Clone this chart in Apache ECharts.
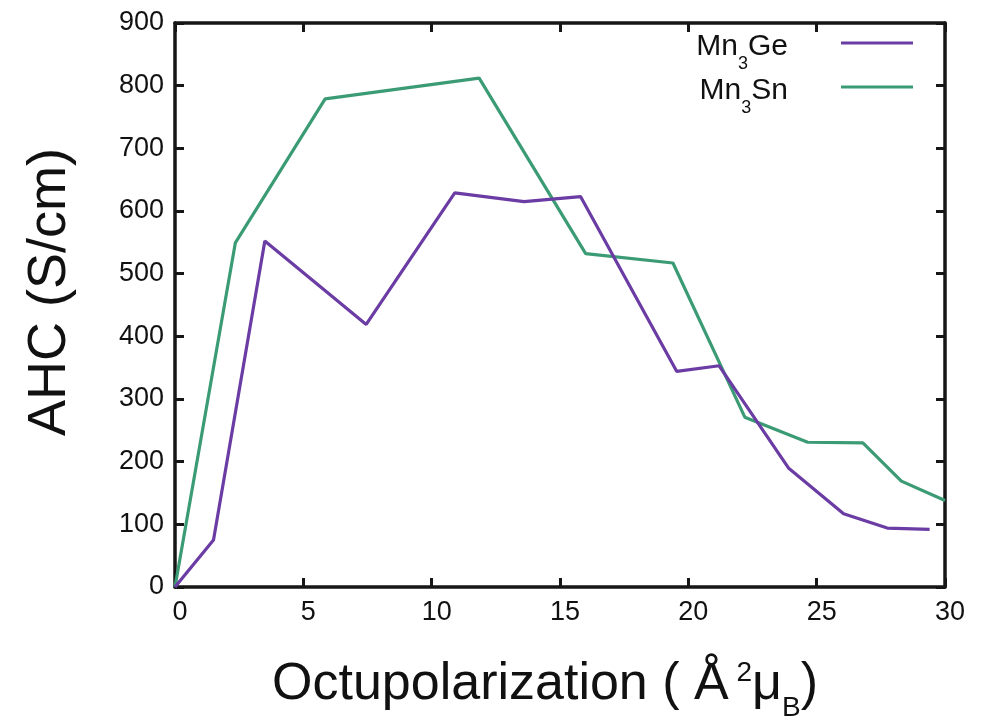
<!DOCTYPE html>
<html>
<head>
<meta charset="utf-8">
<script src="https://cdn.jsdelivr.net/npm/echarts@6/dist/echarts.min.js"></script>
<style>
html,body{margin:0;padding:0;background:#fff;}
#chart{width:983px;height:720px;}
</style>
</head>
<body>
<div id="chart"></div>
<script>
// Data
var geX = [0, 1.5, 3.5, 7.45, 10.9, 13.6, 15.8, 19.55, 21.2, 23.9, 26.05, 27.75, 29.4];
var geY = [0, 75, 552, 419, 629, 615, 623, 344, 353, 190, 117, 94, 92];
var snX = [0, 2.35, 5.85, 11.85, 16.0, 19.4, 22.2, 24.65, 26.8, 28.3, 30];
var snY = [0, 549, 779, 812, 532, 517, 271, 231, 230, 169, 138];
var seriesNames = ['Mn3Ge', 'Mn3Sn'];
var legendLabels = {
  'Mn3Ge': '{a|Mn}{s|3}{a|Ge}{g| }',
  'Mn3Sn': '{a|Mn}{s|3}{a|Sn}{g| }'
};
var xTitle = '{m|Octupolarization ( Å}{sp| 2}{m|μ}{sb|B}{m|)}';
var yTitle = 'AHC (S/cm)';

function pairs(xs, ys) { return xs.map(function (x, i) { return [x, ys[i]]; }); }

var FONT = 'Liberation Sans';
var AX = '#161616';
var chart = echarts.init(document.getElementById('chart'), null, {renderer: 'canvas'});

function xAxisBase(pos, showLabel) {
  return {
    type: 'value', position: pos, min: 0, max: 30, interval: 5,
    axisLine: {show: true, onZero: false, lineStyle: {color: AX, width: 3.5}},
    axisTick: {show: true, inside: true, length: 9, lineStyle: {color: AX, width: 3}},
    axisLabel: {show: showLabel, margin: 12, fontSize: 27, fontFamily: FONT, color: '#111', padding: [0, 0, 0, 10]},
    splitLine: {show: false}
  };
}
function yAxisBase(pos, showLabel) {
  return {
    type: 'value', position: pos, min: 0, max: 900, interval: 100,
    axisLine: {show: true, onZero: false, lineStyle: {color: AX, width: 3.5}},
    axisTick: {show: true, inside: true, length: 9, lineStyle: {color: AX, width: 3}},
    axisLabel: {show: showLabel, margin: 11, fontSize: 27, fontFamily: FONT, color: '#111'},
    splitLine: {show: false}
  };
}

var xb = xAxisBase('bottom', true);
xb.name = xTitle;
xb.nameLocation = 'middle';
xb.nameGap = 72;
xb.nameTextStyle = {
  fontFamily: FONT, color: '#111', padding: [0, 30, 0, 0],
  rich: {
    m: {fontSize: 52, fontFamily: FONT, color: '#111', lineHeight: 52, verticalAlign: 'top'},
    sp: {fontSize: 28, fontFamily: FONT, color: '#111', lineHeight: 28, verticalAlign: 'top', padding: [0, 0, 0, 0]},
    sb: {fontSize: 28, fontFamily: FONT, color: '#111', lineHeight: 28, verticalAlign: 'top', padding: [35, 0, 0, 0]}
  }
};
var yl = yAxisBase('left', true);
yl.name = yTitle;
yl.nameLocation = 'middle';
yl.nameGap = 98;
yl.nameTextStyle = {fontSize: 54, fontFamily: FONT, color: '#111', padding: [0, 0, 0, 26]};

var option = {
  backgroundColor: '#ffffff',
  animation: false,
  grid: {left: 175, right: 38, top: 23, bottom: 133, containLabel: false, outerBoundsMode: 'none'},
  legend: {
    data: seriesNames,
    orient: 'vertical',
    right: 70, top: 28,
    padding: 0,
    itemGap: -1,
    align: 'right',
    icon: 'rect',
    itemWidth: 72, itemHeight: 3,
    selectedMode: false,
    formatter: function (n) { return legendLabels[n]; },
    textStyle: {
      fontFamily: FONT, color: '#111',
      rich: {
        a: {fontSize: 30, fontFamily: FONT, color: '#111', lineHeight: 30, verticalAlign: 'top', padding: [4, 0, 0, 0]},
        s: {fontSize: 18, fontFamily: FONT, color: '#111', lineHeight: 16, verticalAlign: 'top', padding: [27, 0, 0, 0]},
        g: {width: 48, fontSize: 10}
      }
    }
  },
  xAxis: [xb, xAxisBase('top', false)],
  yAxis: [yl, yAxisBase('right', false)],
  series: [
    {name: seriesNames[0], type: 'line', data: pairs(geX, geY), showSymbol: false, symbol: 'none',
     color: '#6a3ca4', lineStyle: {color: '#6a3ca4', width: 3.2}, clip: true, z: 3},
    {name: seriesNames[1], type: 'line', data: pairs(snX, snY), showSymbol: false, symbol: 'none',
     color: '#3b9b74', lineStyle: {color: '#3b9b74', width: 3.2}, clip: true, z: 2}
  ]
};
chart.setOption(option);
</script>
</body>
</html>
